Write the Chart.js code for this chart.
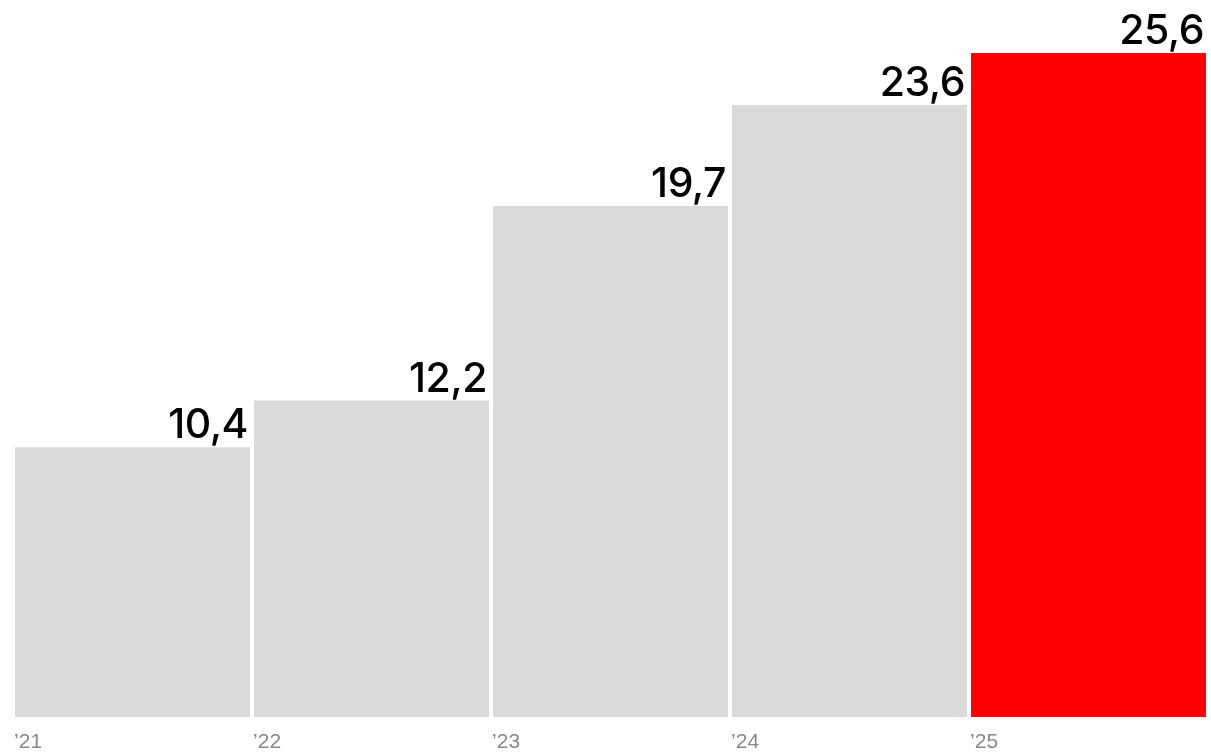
<!DOCTYPE html>
<html>
<head>
<meta charset="utf-8">
<script src="https://cdn.jsdelivr.net/npm/chart.js@4"></script>
<style>
  html, body { margin: 0; padding: 0; background: #fff; }
  #wrap { width: 1211px; height: 753px; }
</style>
</head>
<body>
<div id="wrap"><canvas id="chart"></canvas></div>
<script>
const years = ['\u201921', '\u201922', '\u201923', '\u201924', '\u201925'];
const values = [10.4, 12.2, 19.7, 23.6, 25.6];
const barColors = ['#d9d9d9', '#d9d9d9', '#d9d9d9', '#d9d9d9', '#ff0000'];

// value above each bar (right aligned) and year under its left edge
const barLabels = {
  id: 'barLabels',
  afterDatasetsDraw(chart) {
    const ctx = chart.ctx;
    const meta = chart.getDatasetMeta(0);
    ctx.save();
    meta.data.forEach((bar, i) => {
      const left = bar.x - bar.width / 2;
      const right = bar.x + bar.width / 2;
      ctx.fillStyle = '#000';
      ctx.font = '500 41px Inter';
      ctx.letterSpacing = '-0.5px';
      ctx.textAlign = 'right';
      ctx.textBaseline = 'alphabetic';
      ctx.fillText(values[i].toFixed(1).replace('.', ','), right - 2, bar.y - 9);
      ctx.letterSpacing = '0px';
      ctx.fillStyle = '#888';
      ctx.font = '21px "Liberation Sans"';
      ctx.textAlign = 'left';
      ctx.fillText(years[i], left - 1, chart.chartArea.bottom + 31);
    });
    ctx.restore();
  }
};

new Chart(document.getElementById('chart'), {
  type: 'bar',
  data: {
    labels: years,
    datasets: [{
      data: values,
      backgroundColor: barColors,
      borderWidth: 0,
      barPercentage: 0.983,
      categoryPercentage: 1
    }]
  },
  options: {
    responsive: true,
    maintainAspectRatio: false,
    animation: false,
    layout: { padding: { left: 13, right: 3, top: 53, bottom: 36 } },
    plugins: { legend: { display: false }, tooltip: { enabled: false } },
    scales: {
      x: { display: false },
      y: { display: false, min: 0, max: 25.6 }
    }
  },
  plugins: [barLabels]
});
</script>
</body>
</html>
